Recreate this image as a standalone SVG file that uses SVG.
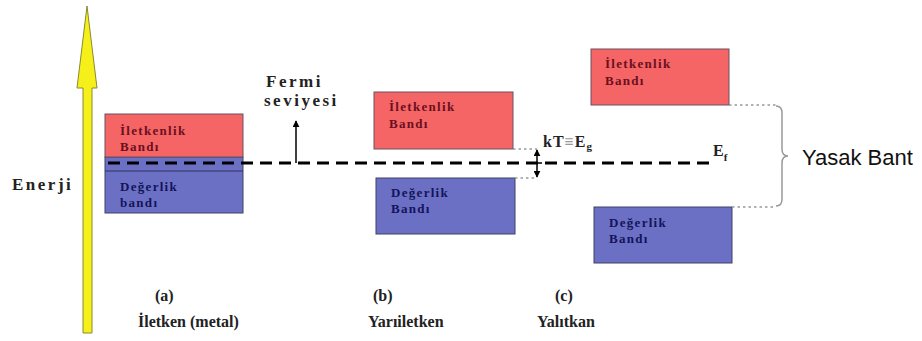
<svg xmlns="http://www.w3.org/2000/svg" width="922" height="341" viewBox="0 0 922 341">
<defs>
<marker id="ah" viewBox="0 0 10 10" refX="9" refY="5" markerWidth="7" markerHeight="7" orient="auto-start-reverse" markerUnits="userSpaceOnUse"><path d="M0,0 L10,5 L0,10 z" fill="#000"/></marker>
</defs>
<style>
.t{font-family:"Liberation Serif","Times New Roman",serif;font-weight:bold;fill:#222}
.lbl{font-size:16px}
.big{font-size:17px;letter-spacing:2.5px}
.rt{font-family:"Liberation Serif","Times New Roman",serif;font-weight:bold;font-size:13px;letter-spacing:1.3px;fill:#6a1020}
.bt{font-family:"Liberation Serif","Times New Roman",serif;font-weight:bold;font-size:13px;letter-spacing:1.3px;fill:#14145a}
.red{fill:#f56565;stroke:#6a5060;stroke-width:1}
.blue{fill:#6b70c4;stroke:#40406a;stroke-width:1}
.dot{stroke:#999;stroke-width:1.3;stroke-dasharray:2.5 3;fill:none}
</style>
<rect width="922" height="341" fill="#fff"/>
<g id="energy-axis">
<path d="M83,333 L83,88 L77,88 L87,6 L97,88 L92,88 L92,333 Z" fill="#f5f01a" stroke="#8a8a30" stroke-width="1"/>
<text class="t big" x="12" y="190" letter-spacing="1.8">Enerji</text>
</g>
<g id="metal">
<rect class="blue" x="105" y="157" width="138" height="56"/>
<rect class="red" x="105" y="114" width="138" height="43"/>
<line x1="105" y1="171" x2="243" y2="171" stroke="#30305a" stroke-width="1"/>
<text class="rt" x="120" y="135">İletkenlik</text>
<text class="rt" x="120" y="151">Bandı</text>
<text class="bt" x="120" y="191">Değerlik</text>
<text class="bt" x="120" y="207">bandı</text>
<text class="t lbl" x="155" y="301">(a)</text>
<text class="t lbl" x="138" y="327">İletken (metal)</text>
</g>
<g id="semiconductor">
<rect class="red" x="374" y="92" width="139" height="57"/>
<rect class="blue" x="376" y="178" width="139" height="56"/>
<text class="rt" x="389" y="111">İletkenlik</text>
<text class="rt" x="389" y="128">Bandı</text>
<text class="bt" x="391" y="197">Değerlik</text>
<text class="bt" x="391" y="213">Bandı</text>
<text class="t lbl" x="373" y="301">(b)</text>
<text class="t lbl" x="368" y="327">Yarıiletken</text>
<text class="t" x="543" y="147" font-size="16" letter-spacing="1">kT<tspan fill="#999">≡</tspan>E<tspan font-size="11" dy="3">g</tspan></text>
</g>
<g id="insulator">
<rect class="red" x="591" y="49" width="138" height="56"/>
<rect class="blue" x="594" y="207" width="138" height="56"/>
<text class="rt" x="605" y="68">İletkenlik</text>
<text class="rt" x="605" y="85">Bandı</text>
<text class="bt" x="609" y="227">Değerlik</text>
<text class="bt" x="609" y="243">Bandı</text>
<text class="t lbl" x="555" y="301">(c)</text>
<text class="t lbl" x="537" y="327">Yalıtkan</text>
<text x="802" y="165" font-family="Liberation Sans, Arial, sans-serif" font-size="22" fill="#111">Yasak Bant</text>
</g>
<g id="fermi-label">
<text class="t big" x="266" y="87">Fermi</text>
<text class="t big" x="264" y="106">seviyesi</text>
<text class="t" x="713" y="156" font-size="16">E<tspan font-size="11" dy="5">f</tspan></text>
</g>
<g id="connectors">
<line x1="108" y1="163" x2="712" y2="163" stroke="#000" stroke-width="3" stroke-dasharray="12 7"/>
<line x1="296" y1="163" x2="296" y2="121" stroke="#000" stroke-width="1.5" marker-end="url(#ah)"/>
<path class="dot" d="M513,149 L537,149 M515,178 L537,178"/>
<line x1="537" y1="150" x2="537" y2="177" stroke="#000" stroke-width="1.5" marker-start="url(#ah)" marker-end="url(#ah)"/>
<line x1="532" y1="163" x2="542" y2="163" stroke="#000" stroke-width="1.5"/>
<path class="dot" d="M729,105 L776,105 M732,207 L776,207"/>
<path d="M776,106 Q782,106 782,113 L782,149 Q782,156 788,156 Q782,156 782,163 L782,199 Q782,206 776,206" fill="none" stroke="#999" stroke-width="1.5"/>
</g>
</svg>
